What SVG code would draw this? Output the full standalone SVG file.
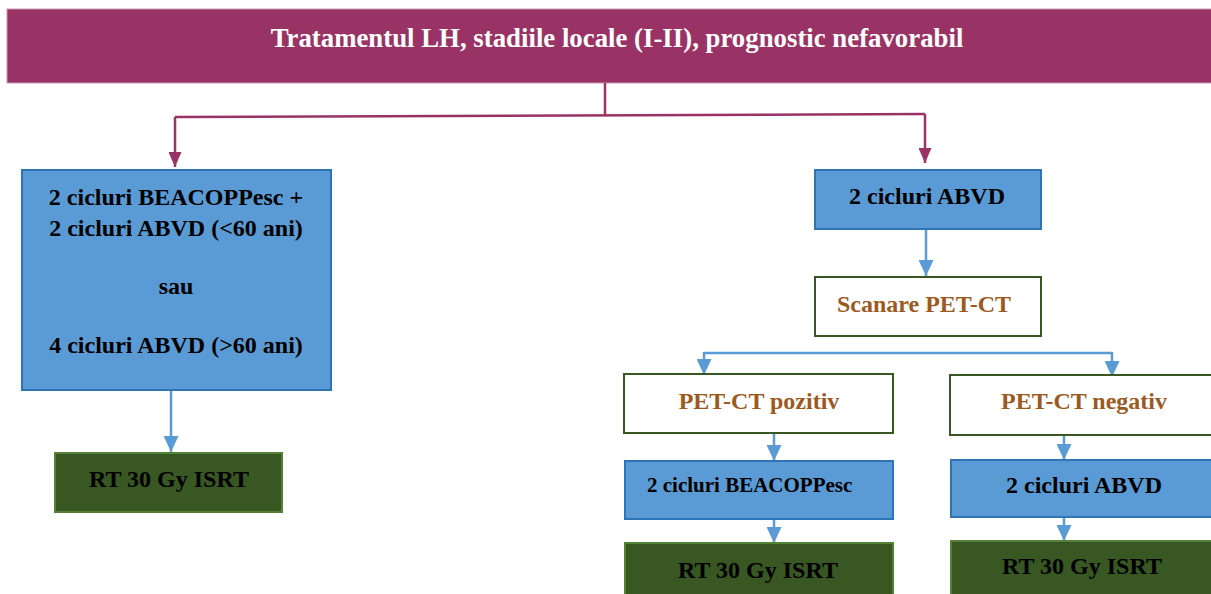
<svg xmlns="http://www.w3.org/2000/svg" width="1211" height="594" viewBox="0 0 1211 594">
<defs>
<style>
text{font-family:"Liberation Serif","Times New Roman",serif;font-weight:bold;text-anchor:middle}
.t{fill:#000;font-size:24px}
.s{fill:#000;font-size:21px;text-anchor:start}
.br{fill:#9c5a1f;font-size:24px}
.blue{fill:#5b9bd5;stroke:#2e75b6;stroke-width:2}
.green{fill:#385723;stroke:#548235;stroke-width:2}
.white{fill:#fff;stroke:#385723;stroke-width:2}
.cb{stroke:#5b9bd5;stroke-width:2.5;fill:none}
.cp{stroke:#993366;stroke-width:2.5;fill:none}
</style>
<marker id="ab" viewBox="0 0 16 15" refX="16" refY="7.5" markerWidth="16" markerHeight="15" markerUnits="userSpaceOnUse" orient="auto"><path d="M0,0 L16,7.5 L0,15 z" fill="#5b9bd5"/></marker>
<marker id="ap" viewBox="0 0 15 13" refX="15" refY="6.5" markerWidth="15" markerHeight="13" markerUnits="userSpaceOnUse" orient="auto"><path d="M0,0 L15,6.5 L0,13 z" fill="#993366"/></marker>
</defs>
<rect width="1211" height="594" fill="#fff"/>
<g id="title">
<rect x="7" y="9" width="1210" height="74" fill="#993366" stroke="#c99ab3" stroke-width="1"/>
<text x="617" y="47" fill="#fff" font-size="26.8">Tratamentul LH, stadiile locale (I-II), prognostic nefavorabil</text>
</g>
<g id="connectors">
<path class="cp" d="M605,83 V116"/>
<path class="cp" d="M175,117 L925,114"/>
<path class="cp" d="M175,117 V167" marker-end="url(#ap)"/>
<path class="cp" d="M925,114 V163" marker-end="url(#ap)"/>
<path class="cb" d="M171,390 V452" marker-end="url(#ab)"/>
<path class="cb" d="M926,229 V276" marker-end="url(#ab)"/>
<path class="cb" d="M704,353 H1112"/>
<path class="cb" d="M704,352 V375" marker-end="url(#ab)"/>
<path class="cb" d="M1112,352 V377" marker-end="url(#ab)"/>
<path class="cb" d="M774,433 V461" marker-end="url(#ab)"/>
<path class="cb" d="M774,519 V543" marker-end="url(#ab)"/>
<path class="cb" d="M1064,435 V460" marker-end="url(#ab)"/>
<path class="cb" d="M1064,517 V541" marker-end="url(#ab)"/>
</g>
<g id="left-chemo">
<rect class="blue" x="22" y="170" width="309" height="220"/>
<text class="t" x="176" y="205">2 cicluri BEACOPPesc +</text>
<text class="t" x="176" y="236">2 cicluri ABVD (&lt;60 ani)</text>
<text class="t" x="176" y="294">sau</text>
<text class="t" x="176" y="353">4 cicluri ABVD (&gt;60 ani)</text>
</g>
<g id="left-rt">
<rect class="green" x="55" y="453" width="227" height="59"/>
<text class="t" x="169" y="487">RT 30 Gy ISRT</text>
</g>
<g id="abvd-top">
<rect class="blue" x="815" y="170" width="226" height="59"/>
<text class="t" x="927" y="204">2 cicluri ABVD</text>
</g>
<g id="pet-scan">
<rect class="white" x="815" y="277" width="226" height="59"/>
<text class="br" x="924" y="312">Scanare PET-CT</text>
</g>
<g id="pet-pos">
<rect class="white" x="624" y="374" width="269" height="59"/>
<text class="br" x="759" y="409">PET-CT pozitiv</text>
</g>
<g id="pet-neg">
<rect class="white" x="950" y="375" width="270" height="60"/>
<text class="br" x="1084" y="409">PET-CT negativ</text>
</g>
<g id="beacopp">
<rect class="blue" x="625" y="461" width="268" height="58"/>
<text class="s" x="647" y="492">2 cicluri BEACOPPesc</text>
</g>
<g id="abvd-neg">
<rect class="blue" x="951" y="460" width="270" height="57"/>
<text class="t" x="1084" y="493">2 cicluri ABVD</text>
</g>
<g id="rt-pos">
<rect class="green" x="625" y="543" width="268" height="60"/>
<text class="t" x="758" y="578">RT 30 Gy ISRT</text>
</g>
<g id="rt-neg">
<rect class="green" x="951" y="541" width="270" height="60"/>
<text class="t" x="1082" y="574">RT 30 Gy ISRT</text>
</g>
</svg>
